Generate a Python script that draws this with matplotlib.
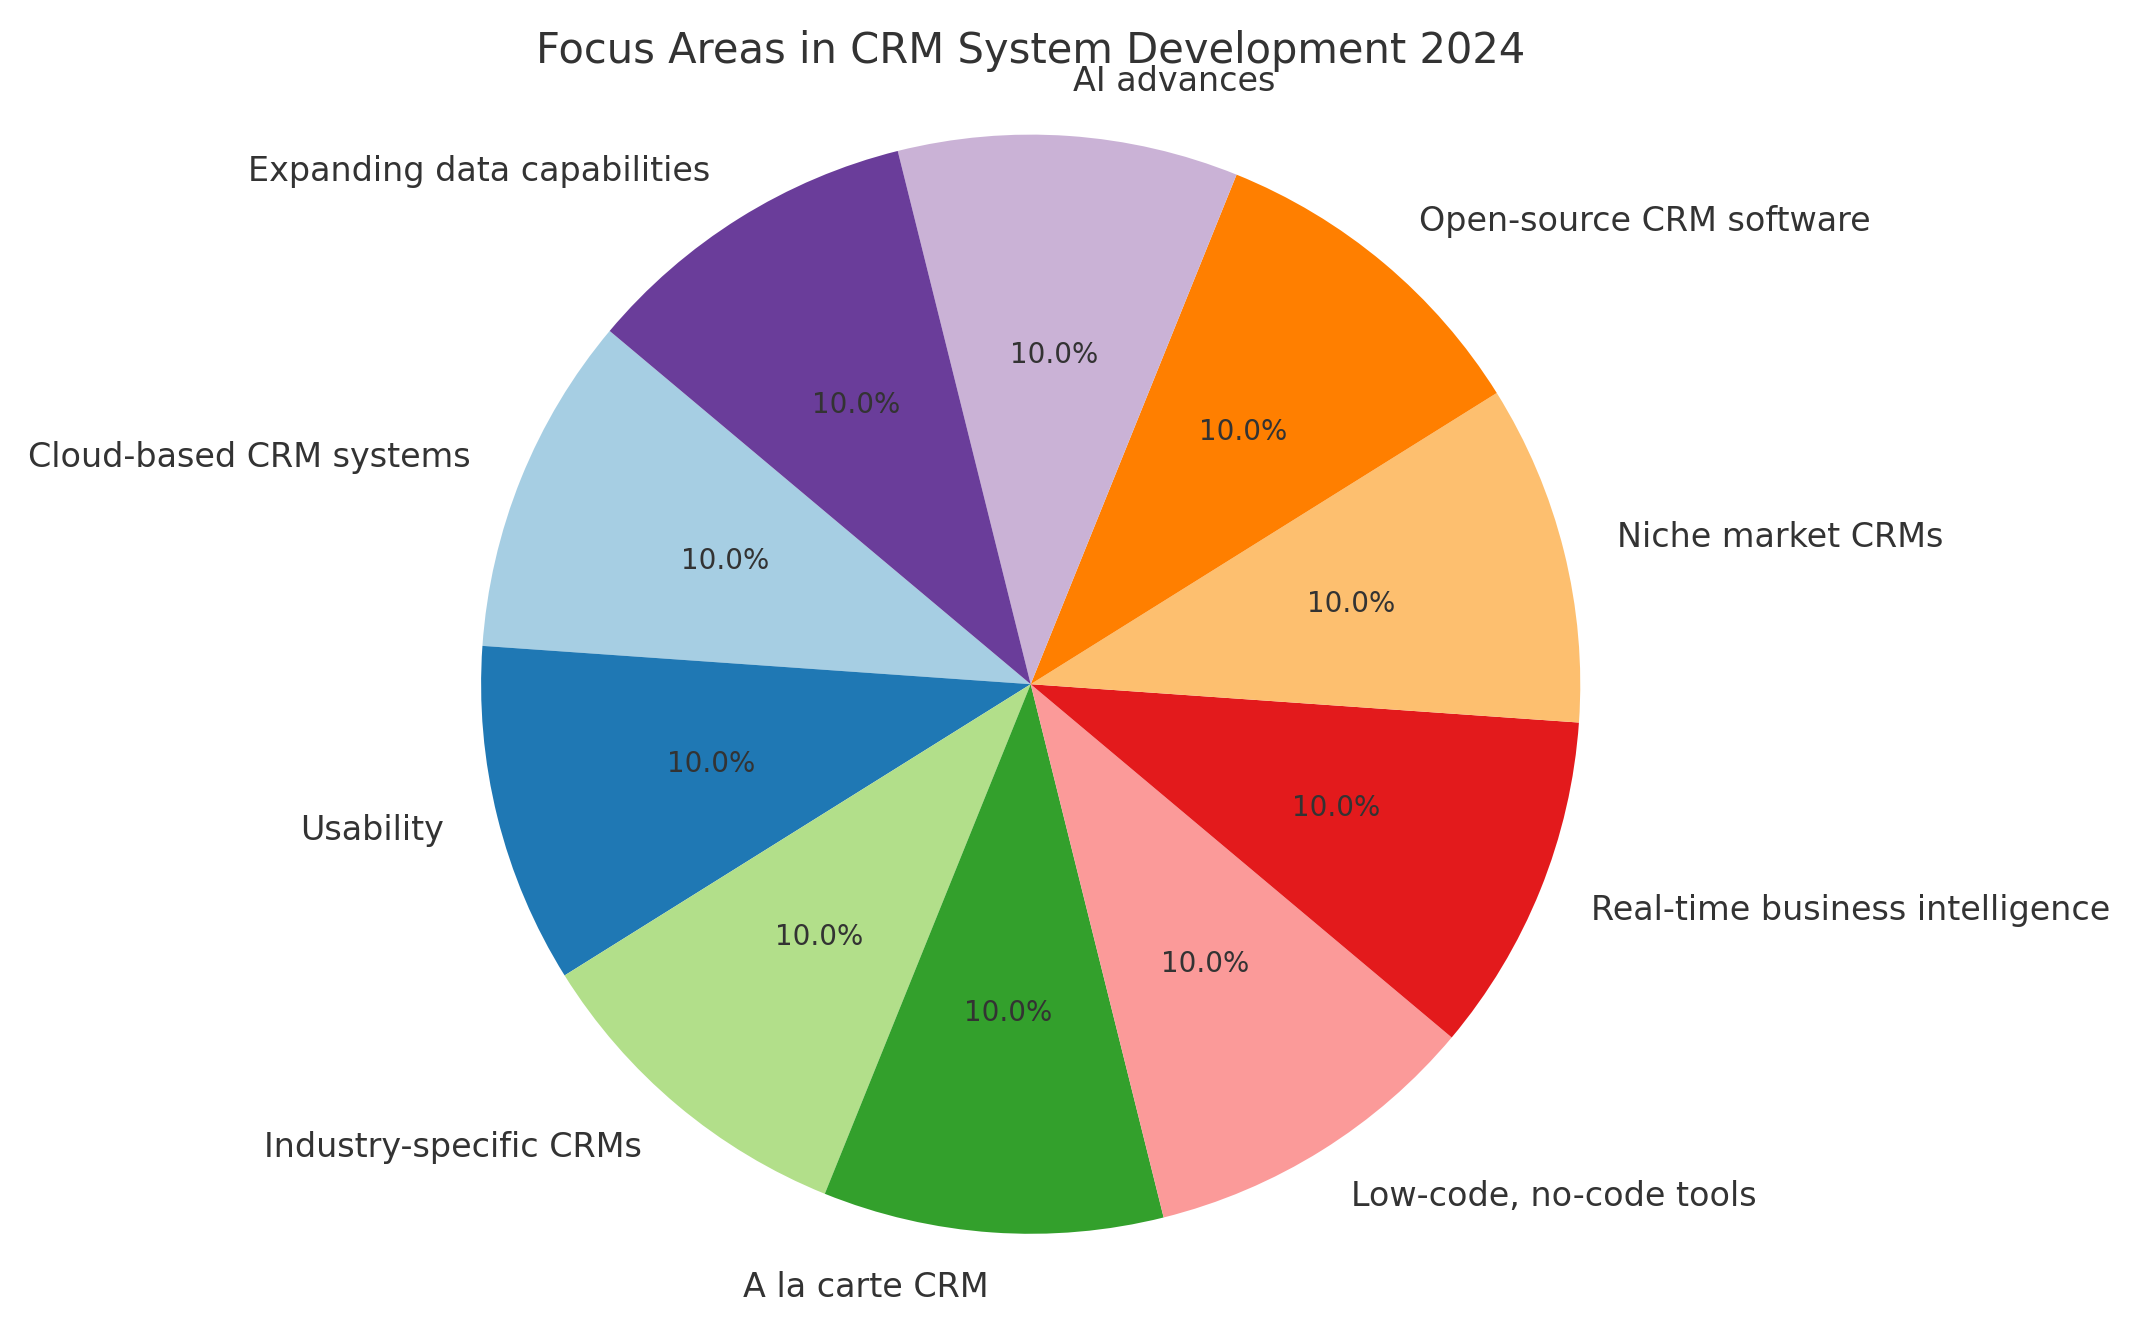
import matplotlib.pyplot as plt
import numpy as np

labels = ["Cloud-based CRM systems", "Usability", "Industry-specific CRMs", "A la carte CRM",
          "Low-code, no-code tools", "Real-time business intelligence", "Niche market CRMs",
          "Open-source CRM software", "AI advances", "Expanding data capabilities"]
values = [10, 10, 10, 10, 10, 10, 10, 10, 10, 10]

plt.rcParams['text.color'] = '#333333'
fig, ax = plt.subplots(figsize=(10.69, 6.67), dpi=200)
colors = plt.cm.Paired(np.arange(len(values)))
wedges, texts, autotexts = ax.pie(values, labels=labels, colors=colors, autopct='%1.1f%%',
                                  startangle=140, textprops={'fontsize': 12, 'color': '#333333'})
for t in autotexts:
    t.set_fontsize(10)
ax.axis('equal')
ax.set_title('Focus Areas in CRM System Development 2024', fontsize=15, color='#333333')
plt.tight_layout()
plt.savefig('out.png')
